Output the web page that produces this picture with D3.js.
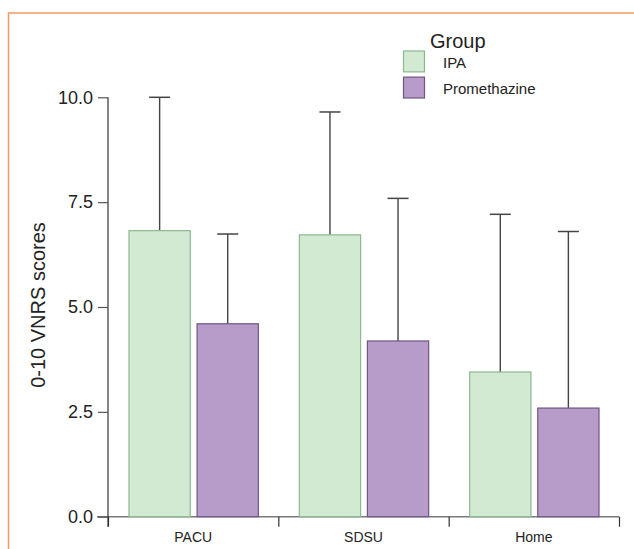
<!DOCTYPE html>
<html>
<head>
<meta charset="utf-8">
<script src="https://cdn.jsdelivr.net/npm/d3@7"></script>
<style>
  body { margin: 0; background: #fff; }
  text { font-family: "Liberation Sans", Arial, sans-serif; fill: #222; }
</style>
</head>
<body>
<div id="vis"></div>
<script>
// frame
const FRAME_WIDTH = 634;
const FRAME_HEIGHT = 549;

// data
const categories = ["PACU", "SDSU", "Home"];
const groups = ["IPA", "Promethazine"];
const ipaMean = [6.82, 6.72, 3.45];
const ipaSD = [3.18, 2.93, 3.76];
const promMean = [4.60, 4.19, 2.59];
const promSD = [2.14, 3.40, 4.21];
const yTicks = [0, 2.5, 5, 7.5, 10];

const fills = { "IPA": "#d2e9d2", "Promethazine": "#b79bc9" };
const strokes = { "IPA": "#8db791", "Promethazine": "#6f5685" };

const data = [];
categories.forEach((c, i) => {
  data.push({ cat: c, group: "IPA", mean: ipaMean[i], sd: ipaSD[i] });
  data.push({ cat: c, group: "Promethazine", mean: promMean[i], sd: promSD[i] });
});

const svg = d3.select("#vis")
  .append("svg")
    .attr("width", FRAME_WIDTH)
    .attr("height", FRAME_HEIGHT);

// orange border (top and left)
svg.append("path")
  .attr("d", "M8.5,549 L8.5,13 L634,13")
  .attr("fill", "none")
  .attr("stroke", "#f39a66")
  .attr("stroke-width", 1.5);

// scales
const X_SCALE = d3.scaleBand()
  .domain(categories)
  .range([108, 619]);

const X_SUB = d3.scaleBand()
  .domain(groups)
  .range([21, X_SCALE.bandwidth() - 20])
  .paddingInner(0.1);

const Y_SCALE = d3.scaleLinear()
  .domain([0, 10])
  .range([516.7, 97.3]);

// x axis boundary ticks
const X_EDGE = d3.scaleLinear().domain([0, categories.length]).range([108, 619]);

svg.append("line")
  .attr("x1", 97).attr("x2", 619)
  .attr("y1", Y_SCALE(0)).attr("y2", Y_SCALE(0))
  .attr("stroke", "#7a7a7a").attr("stroke-width", 1.5);

svg.append("g")
  .attr("transform", "translate(0," + Y_SCALE(0) + ")")
  .call(d3.axisBottom(X_EDGE).tickValues([0, 1, 2, 3]).tickFormat("").tickSize(10).tickSizeOuter(0))
  .call(g => g.select(".domain").remove())
  .call(g => g.selectAll(".tick line").attr("stroke", "#333").attr("stroke-width", 1.2));

// category labels
svg.append("g")
  .attr("transform", "translate(0," + (Y_SCALE(0) + 10) + ")")
  .call(d3.axisBottom(X_SCALE).tickSize(0).tickPadding(5))
  .call(g => g.select(".domain").remove())
  .call(g => g.selectAll("text")
    .attr("font-size", "14px")
    .attr("font-family", "Liberation Sans, Arial, sans-serif")
    .attr("fill", "#222"));

// y axis
svg.append("line")
  .attr("x1", 108).attr("x2", 108)
  .attr("y1", Y_SCALE(10)).attr("y2", Y_SCALE(0) + 10)
  .attr("stroke", "#333").attr("stroke-width", 1.2);

svg.append("g")
  .attr("transform", "translate(108,0)")
  .call(d3.axisLeft(Y_SCALE).tickValues(yTicks).tickFormat(d3.format(".1f")).tickSize(10).tickPadding(5))
  .call(g => g.select(".domain").remove())
  .call(g => g.selectAll(".tick line").attr("stroke", "#555").attr("stroke-width", 1.2))
  .call(g => g.selectAll("text")
    .attr("font-size", "18px")
    .attr("font-family", "Liberation Sans, Arial, sans-serif")
    .attr("fill", "#222"));

// y title
svg.append("text")
  .attr("transform", "translate(45,305) rotate(-90)")
  .attr("text-anchor", "middle")
  .attr("font-size", "20px")
  .text("0-10 VNRS scores");

// bars
const bx = (d) => X_SCALE(d.cat) + X_SUB(d.group);

// error bars (upper only)
const err = svg.append("g");
err.selectAll("line.stem")
  .data(data).enter()
  .append("line")
    .attr("class", "stem")
    .attr("x1", d => bx(d) + X_SUB.bandwidth() / 2)
    .attr("x2", d => bx(d) + X_SUB.bandwidth() / 2)
    .attr("y1", d => Y_SCALE(d.mean))
    .attr("y2", d => Y_SCALE(d.mean + d.sd))
    .attr("stroke", "#444").attr("stroke-width", 1.4);
err.selectAll("line.cap")
  .data(data).enter()
  .append("line")
    .attr("class", "cap")
    .attr("x1", d => bx(d) + X_SUB.bandwidth() / 2 - 10.5)
    .attr("x2", d => bx(d) + X_SUB.bandwidth() / 2 + 10.5)
    .attr("y1", d => Y_SCALE(d.mean + d.sd))
    .attr("y2", d => Y_SCALE(d.mean + d.sd))
    .attr("stroke", "#444").attr("stroke-width", 1.5);

svg.append("g").selectAll("rect")
  .data(data).enter()
  .append("rect")
    .attr("x", d => bx(d))
    .attr("y", d => Y_SCALE(d.mean))
    .attr("width", X_SUB.bandwidth())
    .attr("height", d => Y_SCALE(0) - Y_SCALE(d.mean))
    .attr("fill", d => fills[d.group])
    .attr("stroke", d => strokes[d.group])
    .attr("stroke-width", 1.2);

// legend
const legend = svg.append("g");
legend.append("text")
  .attr("x", 430).attr("y", 48)
  .attr("font-size", "20px")
  .text("Group");

const LEG_Y = d3.scaleBand().domain(groups).range([51, 98]).paddingInner(0.2);
legend.selectAll("rect")
  .data(groups).enter()
  .append("rect")
    .attr("x", 403.5)
    .attr("y", d => LEG_Y(d))
    .attr("width", 21)
    .attr("height", LEG_Y.bandwidth())
    .attr("fill", d => fills[d])
    .attr("stroke", d => strokes[d])
    .attr("stroke-width", 1.2);
legend.selectAll("text.lab")
  .data(groups).enter()
  .append("text")
    .attr("class", "lab")
    .attr("x", 443)
    .attr("y", d => LEG_Y(d) + LEG_Y.bandwidth() / 2 + 1)
    .attr("dy", "0.35em")
    .attr("font-size", "15px")
    .text(d => d);
</script>
</body>
</html>
